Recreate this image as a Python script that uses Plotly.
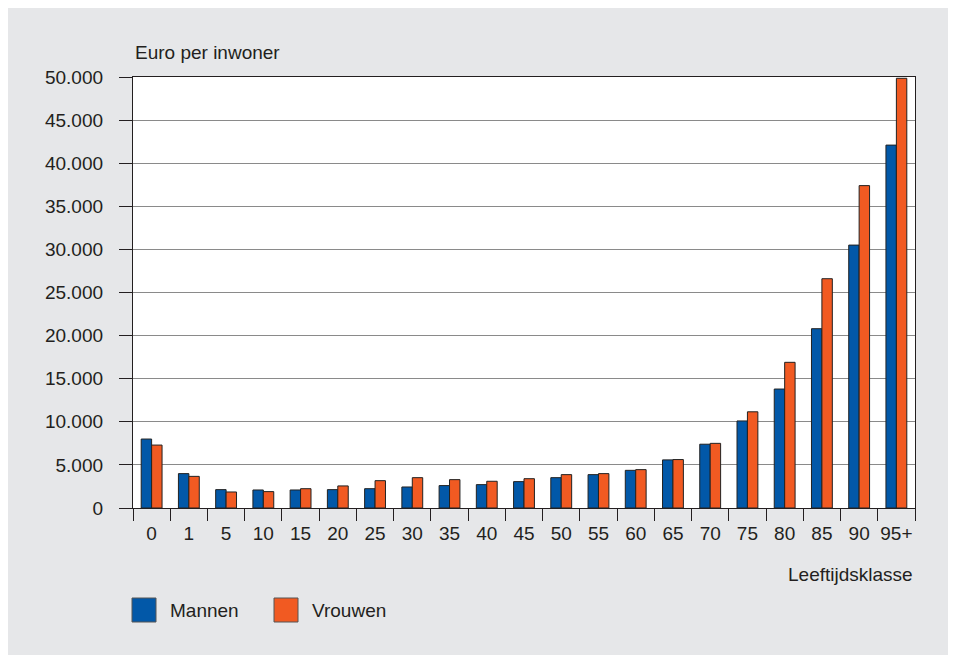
import plotly.graph_objects as go

# leeftijdsklassen en zorgkosten per inwoner (euro)
klassen = ["0", "1", "5", "10", "15", "20", "25", "30", "35", "40", "45",
           "50", "55", "60", "65", "70", "75", "80", "85", "90", "95+"]
mannen = [8000, 3990, 2130, 2090, 2090, 2130, 2240, 2440, 2600, 2710, 3060,
          3520, 3870, 4370, 5580, 7400, 10100, 13800, 20800, 30500, 42100]
vrouwen = [7300, 3670, 1860, 1900, 2240, 2560, 3170, 3520, 3290, 3100, 3400,
           3870, 3990, 4450, 5620, 7500, 11160, 16900, 26600, 37400, 49850]

BLAUW = "#0258a8"
ORANJE = "#f15a22"
BG = "#e6e7e9"
FONT = "Liberation Sans, Arial, sans-serif"

fig = go.Figure()
fig.add_bar(x=klassen, y=mannen, name="Mannen",
            marker=dict(color=BLAUW, line=dict(color="#222222", width=1)))
fig.add_bar(x=klassen, y=vrouwen, name="Vrouwen",
            marker=dict(color=ORANJE, line=dict(color="#222222", width=1)))

fig.update_layout(
    width=956, height=655,
    margin=dict(l=125, r=49, t=69, b=155),
    paper_bgcolor=BG, plot_bgcolor="white",
    barmode="group", bargap=0.44, bargroupgap=0,
    showlegend=False,
    separators=",.",
    font=dict(family=FONT, size=19, color="#231f20"),
)

fig.update_yaxes(
    range=[0, 50000], dtick=5000, tickformat=",d",
    showgrid=True, gridcolor="#8a8a8a", gridwidth=1,
    showline=True, linecolor="#231f20", linewidth=1.3, mirror=True,
    ticks="outside", ticklen=13, tickcolor="#231f20", tickwidth=1.3,
    ticklabelstandoff=12, zeroline=False,
)
fig.update_xaxes(
    type="category", tickson="boundaries", tickangle=0,
    showline=True, linecolor="#231f20", linewidth=1.3, mirror=True,
    ticks="outside", ticklen=12, tickcolor="#231f20", tickwidth=1.3,
    ticklabelstandoff=8,
)

# titels
fig.add_annotation(text="Euro per inwoner", xref="paper", yref="paper",
                   x=0, y=1, yshift=12, xanchor="left", yanchor="bottom",
                   showarrow=False)
fig.add_annotation(text="Leeftijdsklasse", xref="paper", yref="paper",
                   x=1, y=0, yshift=-54, xanchor="right", yanchor="top",
                   showarrow=False)

# legenda (handmatig, grote vierkante vlakken)
def px_x(p):
    return (p - 133) / 782

def px_y(p):
    return (508 - p) / 431

for kleur, naam, x0 in [(BLAUW, "Mannen", 132), (ORANJE, "Vrouwen", 274)]:
    fig.add_shape(type="rect", xref="paper", yref="paper",
                  x0=px_x(x0), x1=px_x(x0 + 24), y0=px_y(622), y1=px_y(598),
                  fillcolor=kleur, line=dict(color="#555555", width=1))
    fig.add_annotation(text=naam, xref="paper", yref="paper",
                       x=px_x(x0 + 36), y=px_y(610), xanchor="left",
                       yanchor="middle", showarrow=False)

fig.write_html("out.html")
